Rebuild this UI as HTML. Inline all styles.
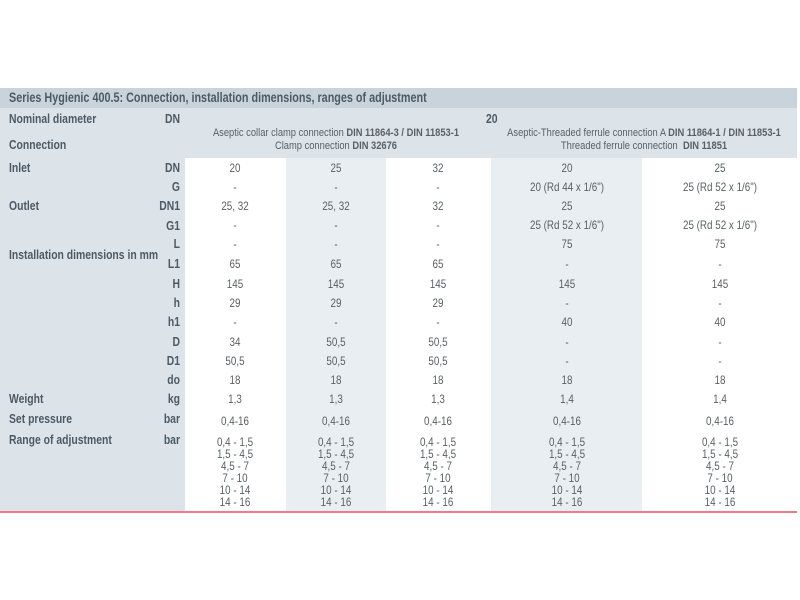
<!DOCTYPE html>
<html><head><meta charset="utf-8"><style>
body{margin:0;width:800px;height:600px;background:#fff;position:relative;overflow:hidden;font-family:"Liberation Sans",sans-serif;}
.b{position:absolute}
.t{position:absolute;font-size:12px;color:#5a5f64;white-space:nowrap;line-height:12px}
.c{transform:translateX(-50%) scaleX(.82);text-align:center;transform-origin:50% 0}
.l{font-weight:bold;color:#4d5a65;font-size:13px;transform:scaleX(.8);transform-origin:0 0}
.r{transform:translateX(-100%) scaleX(.8);transform-origin:100% 0;font-weight:bold;color:#4d5a65;font-size:13px}
</style></head><body>
<div class="b" style="left:0;top:88px;width:797px;height:20px;background:#c8d3db"></div>
<div class="b" style="left:0;top:108px;width:797px;height:50px;background:#dce4ea"></div>
<div class="b" style="left:0;top:158px;width:185px;height:353px;background:#dce4ea"></div>
<div class="b" style="left:286px;top:158px;width:100px;height:353px;background:#e9eef2"></div>
<div class="b" style="left:491px;top:158px;width:151px;height:353px;background:#e9eef2"></div>
<div class="b" style="left:0;top:511px;width:797px;height:2px;background:#f07a8c"></div>

<div class="t l" style="left:9px;top:92px;font-size:13.5px">Series Hygienic 400.5: Connection, installation dimensions, ranges of adjustment</div>
<div class="t l" style="left:9px;top:113px">Nominal diameter</div><div class="t r" style="left:180px;top:113px">DN</div>
<div class="t l" style="left:486px;top:113px">20</div>
<div class="t l" style="left:9px;top:139px">Connection</div>
<div class="t c" style="left:336px;top:127px;font-size:11.4px">Aseptic collar clamp connection <b>DIN 11864-3 / DIN 11853-1</b></div>
<div class="t c" style="left:336px;top:140px;font-size:11.4px">Clamp connection <b>DIN 32676</b></div>
<div class="t c" style="left:644px;top:127px;font-size:11.4px">Aseptic-Threaded ferrule connection A <b>DIN 11864-1 / DIN 11853-1</b></div>
<div class="t c" style="left:644px;top:140px;font-size:11.4px">Threaded ferrule connection &nbsp;<b>DIN 11851</b></div>

<div class="t l" style="left:9px;top:162px">Inlet</div>
<div class="t l" style="left:9px;top:200px">Outlet</div>
<div class="t l" style="left:9px;top:249px">Installation dimensions in mm</div>
<div class="t l" style="left:9px;top:393px">Weight</div>
<div class="t l" style="left:9px;top:413px">Set pressure</div>
<div class="t l" style="left:9px;top:434px">Range of adjustment</div>

<div class="t r" style="left:180px;top:162px">DN</div>
<div class="t r" style="left:180px;top:181px">G</div>
<div class="t r" style="left:180px;top:200px">DN1</div>
<div class="t r" style="left:180px;top:220px">G1</div>
<div class="t r" style="left:180px;top:238px">L</div>
<div class="t r" style="left:180px;top:258px">L1</div>
<div class="t r" style="left:180px;top:278px">H</div>
<div class="t r" style="left:180px;top:297px">h</div>
<div class="t r" style="left:180px;top:316px">h1</div>
<div class="t r" style="left:180px;top:336px">D</div>
<div class="t r" style="left:180px;top:355px">D1</div>
<div class="t r" style="left:180px;top:374px">do</div>
<div class="t r" style="left:180px;top:393px">kg</div>
<div class="t r" style="left:180px;top:413px">bar</div>
<div class="t r" style="left:180px;top:434px">bar</div>

<!-- col1 -->
<div class="t c" style="left:235px;top:162px">20</div><div class="t c" style="left:235px;top:181px">-</div><div class="t c" style="left:235px;top:200px">25, 32</div><div class="t c" style="left:235px;top:219px">-</div><div class="t c" style="left:235px;top:238px">-</div><div class="t c" style="left:235px;top:258px">65</div><div class="t c" style="left:235px;top:278px">145</div><div class="t c" style="left:235px;top:297px">29</div><div class="t c" style="left:235px;top:316px">-</div><div class="t c" style="left:235px;top:336px">34</div><div class="t c" style="left:235px;top:355px">50,5</div><div class="t c" style="left:235px;top:374px">18</div><div class="t c" style="left:235px;top:393px">1,3</div><div class="t c" style="left:235px;top:415px">0,4-16</div>
<div class="t c" style="left:235px;top:436px">0,4 - 1,5<br>1,5 - 4,5<br>4,5 - 7<br>7 - 10<br>10 - 14<br>14 - 16</div>
<!-- col2 -->
<div class="t c" style="left:336px;top:162px">25</div><div class="t c" style="left:336px;top:181px">-</div><div class="t c" style="left:336px;top:200px">25, 32</div><div class="t c" style="left:336px;top:219px">-</div><div class="t c" style="left:336px;top:238px">-</div><div class="t c" style="left:336px;top:258px">65</div><div class="t c" style="left:336px;top:278px">145</div><div class="t c" style="left:336px;top:297px">29</div><div class="t c" style="left:336px;top:316px">-</div><div class="t c" style="left:336px;top:336px">50,5</div><div class="t c" style="left:336px;top:355px">50,5</div><div class="t c" style="left:336px;top:374px">18</div><div class="t c" style="left:336px;top:393px">1,3</div><div class="t c" style="left:336px;top:415px">0,4-16</div>
<div class="t c" style="left:336px;top:436px">0,4 - 1,5<br>1,5 - 4,5<br>4,5 - 7<br>7 - 10<br>10 - 14<br>14 - 16</div>
<!-- col3 -->
<div class="t c" style="left:438px;top:162px">32</div><div class="t c" style="left:438px;top:181px">-</div><div class="t c" style="left:438px;top:200px">32</div><div class="t c" style="left:438px;top:219px">-</div><div class="t c" style="left:438px;top:238px">-</div><div class="t c" style="left:438px;top:258px">65</div><div class="t c" style="left:438px;top:278px">145</div><div class="t c" style="left:438px;top:297px">29</div><div class="t c" style="left:438px;top:316px">-</div><div class="t c" style="left:438px;top:336px">50,5</div><div class="t c" style="left:438px;top:355px">50,5</div><div class="t c" style="left:438px;top:374px">18</div><div class="t c" style="left:438px;top:393px">1,3</div><div class="t c" style="left:438px;top:415px">0,4-16</div>
<div class="t c" style="left:438px;top:436px">0,4 - 1,5<br>1,5 - 4,5<br>4,5 - 7<br>7 - 10<br>10 - 14<br>14 - 16</div>
<!-- col4 -->
<div class="t c" style="left:567px;top:162px">20</div><div class="t c" style="left:567px;top:181px">20 (Rd 44 x 1/6")</div><div class="t c" style="left:567px;top:200px">25</div><div class="t c" style="left:567px;top:219px">25 (Rd 52 x 1/6")</div><div class="t c" style="left:567px;top:238px">75</div><div class="t c" style="left:567px;top:258px">-</div><div class="t c" style="left:567px;top:278px">145</div><div class="t c" style="left:567px;top:297px">-</div><div class="t c" style="left:567px;top:316px">40</div><div class="t c" style="left:567px;top:336px">-</div><div class="t c" style="left:567px;top:355px">-</div><div class="t c" style="left:567px;top:374px">18</div><div class="t c" style="left:567px;top:393px">1,4</div><div class="t c" style="left:567px;top:415px">0,4-16</div>
<div class="t c" style="left:567px;top:436px">0,4 - 1,5<br>1,5 - 4,5<br>4,5 - 7<br>7 - 10<br>10 - 14<br>14 - 16</div>
<!-- col5 -->
<div class="t c" style="left:720px;top:162px">25</div><div class="t c" style="left:720px;top:181px">25 (Rd 52 x 1/6")</div><div class="t c" style="left:720px;top:200px">25</div><div class="t c" style="left:720px;top:219px">25 (Rd 52 x 1/6")</div><div class="t c" style="left:720px;top:238px">75</div><div class="t c" style="left:720px;top:258px">-</div><div class="t c" style="left:720px;top:278px">145</div><div class="t c" style="left:720px;top:297px">-</div><div class="t c" style="left:720px;top:316px">40</div><div class="t c" style="left:720px;top:336px">-</div><div class="t c" style="left:720px;top:355px">-</div><div class="t c" style="left:720px;top:374px">18</div><div class="t c" style="left:720px;top:393px">1,4</div><div class="t c" style="left:720px;top:415px">0,4-16</div>
<div class="t c" style="left:720px;top:436px">0,4 - 1,5<br>1,5 - 4,5<br>4,5 - 7<br>7 - 10<br>10 - 14<br>14 - 16</div>
</body></html>
